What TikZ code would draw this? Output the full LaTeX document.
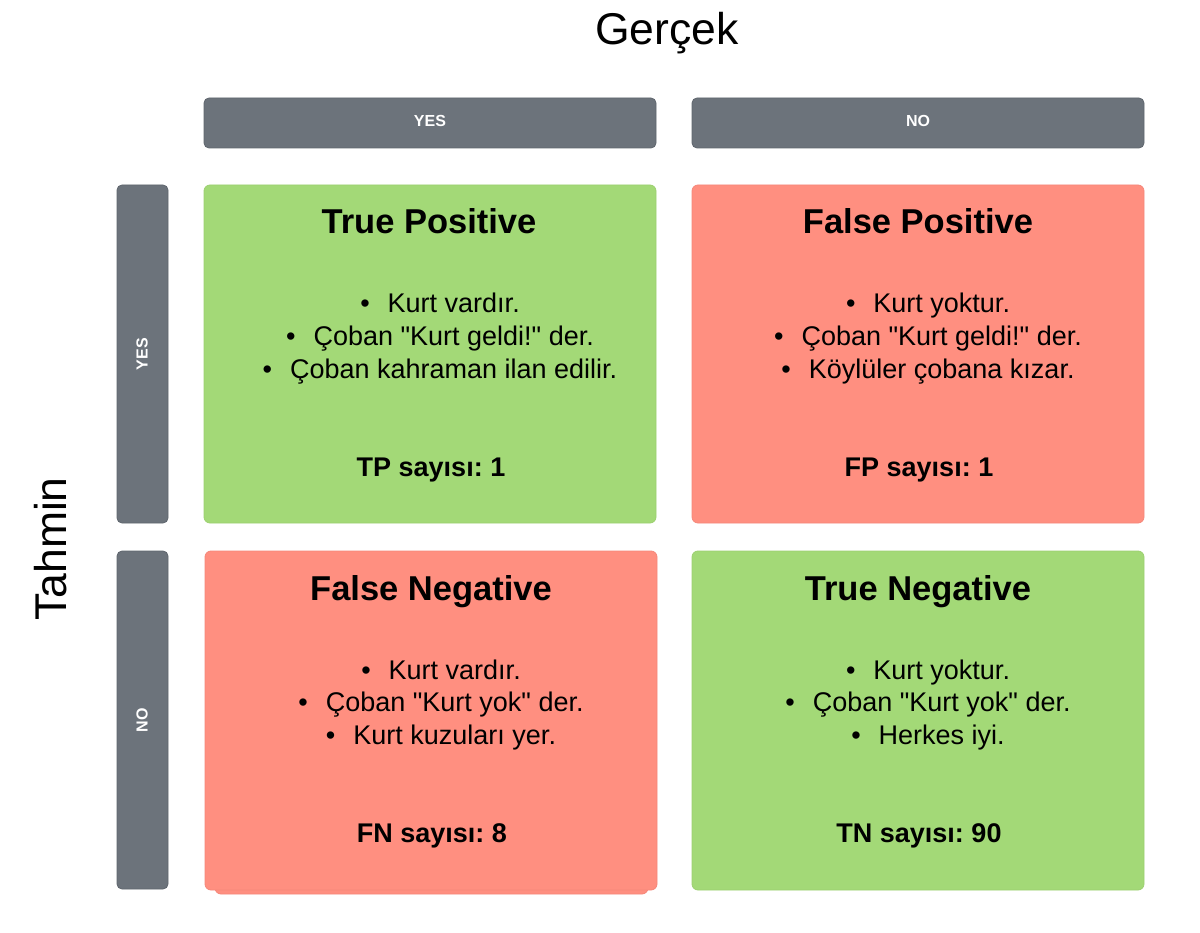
\documentclass[tikz,border=0pt]{standalone}
\usepackage{fontspec}
\setmainfont{Liberation Sans}[Ligatures=TeXOff]
\frenchspacing
\definecolor{barfill}{HTML}{6C737B}
\definecolor{barline}{HTML}{5E656D}
\definecolor{goodfill}{HTML}{A3D977}
\definecolor{goodline}{HTML}{9CD070}
\definecolor{badfill}{HTML}{FF8F80}
\definecolor{badline}{HTML}{F5877A}
\tikzset{
  bar/.style={draw=barline, fill=barfill, rounded corners=5pt, line width=0.8pt},
  goodbox/.style={draw=goodline, fill=goodfill, rounded corners=6pt, line width=0.8pt},
  badbox/.style={draw=badline, fill=badfill, rounded corners=6pt, line width=0.8pt},
  barlabel/.style={text=white, font=\fontsize{16}{19}\selectfont\bfseries, inner sep=0pt},
  boxtitle/.style={anchor=base, inner sep=0pt, font=\fontsize{34.5}{40}\selectfont\bfseries},
  item/.style={anchor=base, inner sep=0pt, font=\fontsize{27}{32}\selectfont},
  count/.style={anchor=base, inner sep=0pt, font=\fontsize{27}{32}\selectfont\bfseries},
  axistitle/.style={inner sep=0pt, font=\fontsize{44.5}{50}\selectfont},
}
\newcommand{\blt}[1]{\textbullet\hspace{18pt}#1}
\begin{document}
\begin{tikzpicture}[x=1pt,y=-1pt]
\useasboundingbox (0,0) rectangle (1200,933);

% axis titles
\node[axistitle, anchor=base] (gercek) at (667,45) {Gerçek};
\node[axistitle, anchor=base, rotate=90] (tahmin) at (66,549) {Tahmin};

% header bars
\draw[bar] (204,98) rectangle (656,148);
\node[barlabel] (hyes) at (430,121) {YES};
\draw[bar] (692,98) rectangle (1144,148);
\node[barlabel] (hno) at (918,121) {NO};

% side bars
\draw[bar] (117,185) rectangle (168,523);
\node[barlabel, rotate=90] (syes) at (142,354) {YES};
\draw[bar] (117,551) rectangle (168,889);
\node[barlabel, rotate=90] (sno) at (142,720) {NO};

% boxes
\draw[goodbox] (204,185) rectangle (656,523);
\draw[badbox] (692,185) rectangle (1144,523);
\draw[badbox] (215,560) rectangle (648,894);
\draw[badbox] (205,551) rectangle (657,890);
\draw[goodbox] (692,551) rectangle (1144,890);

% TP
\node[boxtitle] (tpt) at (429,234) {True Positive};
\node[item] (tp1) at (440,313) {\blt{Kurt vardır.}};
\node[item] (tp2) at (440,345.5) {\blt{Çoban "Kurt geldi!" der.}};
\node[item] (tp3) at (440,378) {\blt{Çoban kahraman ilan edilir.}};
\node[count] (tpc) at (431,476) {TP sayısı: 1};

% FP
\node[boxtitle] (fpt) at (918,234) {False Positive};
\node[item] (fp1) at (928,313) {\blt{Kurt yoktur.}};
\node[item] (fp2) at (928,345.5) {\blt{Çoban "Kurt geldi!" der.}};
\node[item] (fp3) at (928,378) {\blt{Köylüler çobana kızar.}};
\node[count] (fpc) at (919,476) {FP sayısı: 1};

% FN
\node[boxtitle] (fnt) at (431,600) {False Negative};
\node[item] (fn1) at (441,679) {\blt{Kurt vardır.}};
\node[item] (fn2) at (441,711.5) {\blt{Çoban "Kurt yok" der.}};
\node[item] (fn3) at (441,744) {\blt{Kurt kuzuları yer.}};
\node[count] (fnc) at (432,842) {FN sayısı: 8};

% TN
\node[boxtitle] (tnt) at (918,600) {True Negative};
\node[item] (tn1) at (928,679) {\blt{Kurt yoktur.}};
\node[item] (tn2) at (928,711.5) {\blt{Çoban "Kurt yok" der.}};
\node[item] (tn3) at (928,744) {\blt{Herkes iyi.}};
\node[count] (tnc) at (919,842) {TN sayısı: 90};
\end{tikzpicture}
\end{document}
